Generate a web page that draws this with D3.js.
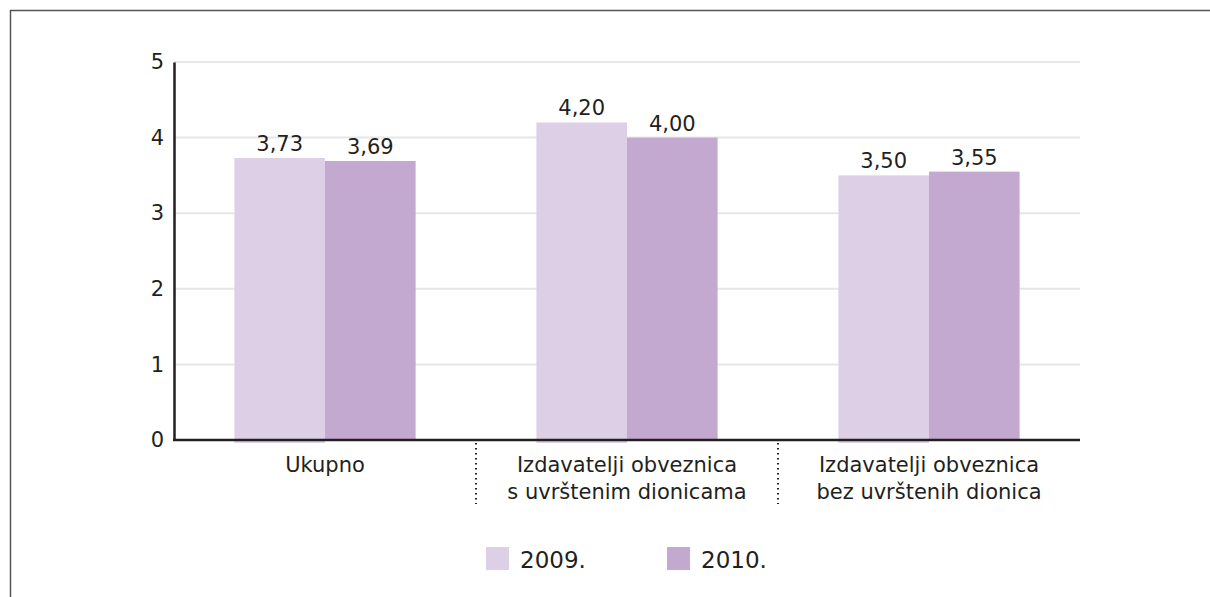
<!DOCTYPE html>
<html>
<head>
<meta charset="utf-8">
<script src="https://cdn.jsdelivr.net/npm/d3@7"></script>
<style>
  body { margin: 0; background: #fff; }
  svg text { font-family: "DejaVu Sans", sans-serif; fill: #231f20; }
</style>
</head>
<body>
<div id="chart"></div>
<script>
var categories = [
  ["Ukupno"],
  ["Izdavatelji obveznica", "s uvrštenim dionicama"],
  ["Izdavatelji obveznica", "bez uvrštenih dionica"]
];
var seriesNames = ["2009.", "2010."];
var values2009 = [3.73, 4.20, 3.50];
var values2010 = [3.69, 4.00, 3.55];
var yTicks = [0, 1, 2, 3, 4, 5];

var colors = ["#ddcfe6", "#c3a8cf"];

var svgWidth = 1210;
var svgHeight = 597;

var margin = { top: 62, right: 130, bottom: 157, left: 174 };
var width = svgWidth - margin.left - margin.right;
var height = svgHeight - margin.top - margin.bottom;

var svg = d3.select("#chart")
  .append("svg")
  .attr("width", svgWidth)
  .attr("height", svgHeight);

// frame lines top and left
svg.append("line")
  .attr("x1", 10).attr("x2", svgWidth).attr("y1", 10.5).attr("y2", 10.5)
  .attr("stroke", "#555").attr("stroke-width", 1.5);
svg.append("line")
  .attr("x1", 10.5).attr("x2", 10.5).attr("y1", 10).attr("y2", svgHeight)
  .attr("stroke", "#555").attr("stroke-width", 1.5);

var chartGroup = svg.append("g")
  .attr("transform", `translate(${margin.left}, ${margin.top})`);

var xScale = d3.scaleBand()
  .domain(d3.range(categories.length))
  .range([0, width])
  .padding(0);

// two bars take the middle 0.6 of each band
var inner = d3.scaleBand()
  .domain([0, 1])
  .range([xScale.bandwidth() * 0.2, xScale.bandwidth() * 0.8])
  .padding(0);

var yScale = d3.scaleLinear()
  .domain([0, 5])
  .range([height, 0]);

// gridlines
chartGroup.selectAll(".grid")
  .data(yTicks.filter(d => d > 0))
  .enter()
  .append("line")
  .attr("x1", 0)
  .attr("x2", width)
  .attr("y1", d => yScale(d))
  .attr("y2", d => yScale(d))
  .attr("stroke", "#e6e6e6")
  .attr("stroke-width", 2);

// bars
var series = [values2009, values2010];
series.forEach((vals, s) => {
  chartGroup.selectAll(".bar" + s)
    .data(vals)
    .enter()
    .append("rect")
    .attr("x", (d, i) => xScale(i) + inner(s))
    .attr("y", d => yScale(d))
    .attr("width", inner.bandwidth())
    .attr("height", d => height - yScale(d) + (s === 0 ? 3 : 0))
    .attr("fill", colors[s]);

  chartGroup.selectAll(".val" + s)
    .data(vals)
    .enter()
    .append("text")
    .attr("x", (d, i) => xScale(i) + inner(s) + inner.bandwidth() / 2)
    .attr("y", d => yScale(d) - 7)
    .attr("text-anchor", "middle")
    .attr("font-size", "21px")
    .text(d => d.toFixed(2).replace(".", ","));
});

// y axis
var yAxis = d3.axisLeft(yScale)
  .tickValues(yTicks)
  .tickFormat(d3.format("d"))
  .tickSize(0)
  .tickPadding(10);
var yG = chartGroup.append("g").call(yAxis);
yG.select(".domain").attr("stroke", "#231f20").attr("stroke-width", 2.5);
yG.selectAll("text").attr("font-size", "21px").attr("fill", "#231f20");

// x axis line
chartGroup.append("line")
  .attr("x1", -1).attr("x2", width)
  .attr("y1", height).attr("y2", height)
  .attr("stroke", "#231f20").attr("stroke-width", 2.5);

// dotted separators
chartGroup.selectAll(".sep")
  .data(d3.range(1, categories.length))
  .enter()
  .append("line")
  .attr("x1", d => xScale(d))
  .attr("x2", d => xScale(d))
  .attr("y1", height + 3)
  .attr("y2", height + 64)
  .attr("stroke", "#231f20")
  .attr("stroke-width", 2)
  .attr("stroke-dasharray", "1.5,3.5");

// category labels
categories.forEach((lines, i) => {
  var t = chartGroup.append("text")
    .attr("x", xScale(i) + xScale.bandwidth() / 2)
    .attr("y", height + 32)
    .attr("text-anchor", "middle")
    .attr("font-size", "21px");
  lines.forEach((l, j) => {
    t.append("tspan")
      .attr("x", xScale(i) + xScale.bandwidth() / 2)
      .attr("dy", j === 0 ? 0 : 27)
      .text(l);
  });
});

// legend
var legendX = [486, 667];
seriesNames.forEach((name, s) => {
  svg.append("rect")
    .attr("x", legendX[s])
    .attr("y", 547)
    .attr("width", 23)
    .attr("height", 23)
    .attr("fill", colors[s]);
  svg.append("text")
    .attr("x", legendX[s] + 34)
    .attr("y", 568)
    .attr("font-size", "23px")
    .text(name);
});
</script>
</body>
</html>
